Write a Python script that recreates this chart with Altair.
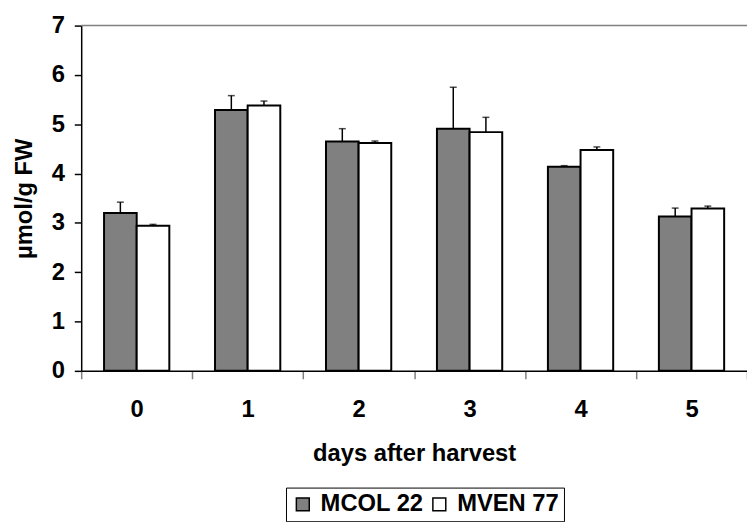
import altair as alt
import pandas as pd

days = ["0", "1", "2", "3", "4", "5"]
series = ["MCOL 22", "MVEN 77"]
mcol_values = [3.20, 5.29, 4.65, 4.91, 4.14, 3.13]
mcol_upper = [3.42, 5.58, 4.91, 5.75, 4.16, 3.30]
mven_values = [2.94, 5.38, 4.62, 4.84, 4.48, 3.29]
mven_upper = [2.97, 5.47, 4.66, 5.14, 4.54, 3.34]

rows = []
for i, d in enumerate(days):
    rows.append({"day": d, "series": series[0], "value": mcol_values[i], "upper": mcol_upper[i]})
    rows.append({"day": d, "series": series[1], "value": mven_values[i], "upper": mven_upper[i]})
df = pd.DataFrame(rows)

FONT = "Liberation Sans"
FS = 24

x_enc = alt.X("day:N", sort=days,
              scale=alt.Scale(paddingInner=0, paddingOuter=0),
              axis=alt.Axis(title="days after harvest", labelAngle=0, tickBand="extent",
                            tickColor="#808080", tickSize=8, tickWidth=1.5,
                            domainColor="black", domainWidth=1.5,
                            labelPadding=19, titlePadding=21))
xo_enc = alt.XOffset("series:N", sort=series,
                     scale=alt.Scale(paddingInner=0, paddingOuter=0.7))

base = alt.Chart(df)

bars = base.mark_bar(stroke="black", strokeWidth=2).encode(
    x=x_enc,
    xOffset=xo_enc,
    y=alt.Y("value:Q", scale=alt.Scale(domain=[0, 7]),
            axis=alt.Axis(title="µmol/g FW", values=list(range(8)), grid=False,
                          tickColor="black", tickSize=7, tickWidth=1.5,
                          domainColor="black", domainWidth=1.5,
                          labelPadding=10, titlePadding=15)),
    fill=alt.Fill("series:N", sort=series,
                  scale=alt.Scale(domain=series, range=["#808080", "#ffffff"]),
                  legend=alt.Legend(title=None, orient="none", direction="horizontal",
                                    legendX=207, legendY=467,
                                    strokeColor="black", padding=5,
                                    symbolType="square", symbolSize=170,
                                    symbolStrokeColor="black", symbolStrokeWidth=1.5,
                                    labelFontSize=FS, labelFontWeight="bold",
                                    labelFont=FONT, columnPadding=3, labelOffset=6)),
)

err = base.mark_rule(color="black", strokeWidth=1.5).encode(
    x=alt.X("day:N", sort=days), xOffset=xo_enc,
    y="value:Q", y2="upper:Q")

caps = base.mark_tick(color="black", thickness=1.5, size=7).encode(
    x=alt.X("day:N", sort=days), xOffset=xo_enc,
    y="upper:Q")

top = alt.Chart(pd.DataFrame({"v": [7]})).mark_rule(color="#808080", strokeWidth=1.5).encode(
    y="v:Q")

chart = alt.layer(bars, err, caps, top).properties(
    width=673, height=349,
    autosize=alt.AutoSizeParams(type="none"),
    padding={"left": 74, "top": 15, "right": 0, "bottom": 150},
).configure_view(stroke=None).configure_axis(
    labelFont=FONT, labelFontSize=FS, labelFontWeight="bold", labelColor="black",
    titleFont=FONT, titleFontSize=FS, titleFontWeight="bold", titleColor="black",
)

chart.save("out.html", embed_options={"renderer": "svg", "actions": False})
